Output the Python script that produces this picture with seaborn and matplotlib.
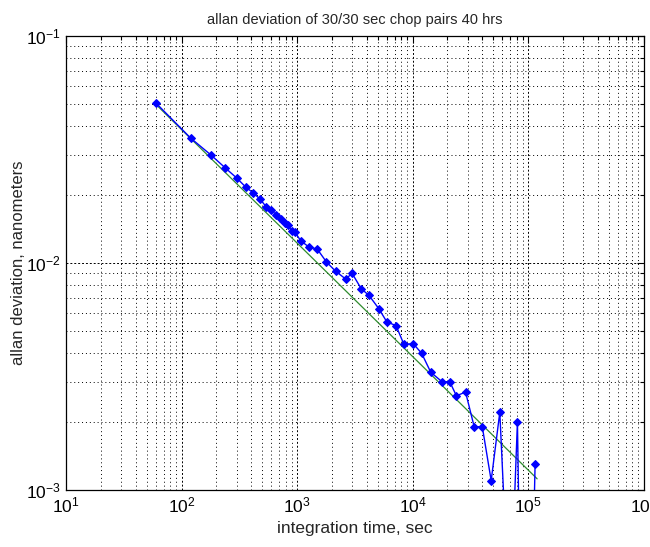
import math
import matplotlib
matplotlib.use("Agg")
import matplotlib.pyplot as plt
import matplotlib.ticker as mticker
import seaborn as sns

# integration times (sec) and allan deviation (nm)
tau = [60, 120, 180, 240, 300, 360, 420, 480, 540, 600,
       660, 720, 780, 840, 900, 960, 1080, 1260, 1500, 1800,
       2160, 2640, 3000, 3600, 4200, 5100, 6000, 7200, 8400, 10200,
       12000, 14400, 18000, 21000, 24000, 28800, 34200, 40200, 48000, 57000,
       64200, 72000, 81000, 85800, 108000, 115200]
adev = [0.0507, 0.0355, 0.0299, 0.0262, 0.0237, 0.0216, 0.0203, 0.0191, 0.0177, 0.0171,
        0.0163, 0.0156, 0.0150, 0.0147, 0.0138, 0.0137, 0.0125, 0.0118, 0.0115, 0.0101,
        0.0092, 0.0085, 0.0090, 0.0077, 0.0072, 0.0063, 0.0055, 0.0053, 0.0044, 0.0044,
        0.0040, 0.0033, 0.0030, 0.0030, 0.0026, 0.0027, 0.0019, 0.0019, 0.0011, 0.0022,
        0.0006, 0.0004, 0.0020, 0.0003, 0.0003, 0.0013]

# tau^-1/2 reference line endpoints
fit_tau = [60, 120000]
fit_dev = [0.05, 0.00112]

sns.set_style("white")
plt.rcParams['font.family'] = ['Liberation Sans', 'DejaVu Sans']
plt.rcParams['mathtext.fontset'] = 'custom'
plt.rcParams['mathtext.rm'] = 'Liberation Sans'
plt.rcParams['mathtext.it'] = 'Liberation Sans'
plt.rcParams['mathtext.bf'] = 'Liberation Sans'

fig = plt.figure(figsize=(6.5, 5.47), dpi=100)
ax = fig.add_axes([66 / 650, 1 - 490 / 547, (643.5 - 66) / 650, (490 - 36) / 547])

sns.lineplot(x=fit_tau, y=fit_dev, ax=ax, color='#2e8b2e', linewidth=0.9)
sns.lineplot(x=tau, y=adev, ax=ax, color='#0000ff', linewidth=1.0,
             marker='D', markersize=3.8, markeredgecolor='#0000ff',
             markerfacecolor='#0000ff')

ax.set_xscale('log')
ax.set_yscale('log')
ax.set_xlim(10, 1e6)
ax.set_ylim(1e-3, 1e-1)

def pow10(v, pos):
    return r'$10^{%d}$' % round(math.log10(v))

ax.xaxis.set_major_locator(mticker.LogLocator(base=10, numticks=10))
ax.xaxis.set_major_formatter(mticker.FuncFormatter(pow10))
ax.yaxis.set_major_formatter(mticker.FuncFormatter(pow10))
ax.xaxis.set_minor_locator(mticker.LogLocator(base=10, subs=range(2, 10), numticks=20))
ax.yaxis.set_minor_locator(mticker.LogLocator(base=10, subs=range(2, 10), numticks=20))
ax.xaxis.set_minor_formatter(mticker.NullFormatter())
ax.yaxis.set_minor_formatter(mticker.NullFormatter())

ax.grid(True, which='major', color='k', linestyle=(0, (2, 2)), linewidth=0.7)
ax.grid(True, which='minor', color='k', linestyle=(0, (1, 3)), linewidth=0.7)
ax.set_axisbelow(True)

ax.tick_params(which='both', direction='in', top=True, right=True,
               colors='k', labelsize=12.5)
ax.tick_params(which='major', length=5, width=0.8, pad=4)
ax.tick_params(which='minor', length=3, width=0.8)
for s in ax.spines.values():
    s.set_color('k')
    s.set_linewidth(0.9)

ax.set_title('allan deviation of 30/30 sec chop pairs 40 hrs', fontsize=10.5, pad=9)
ax.set_xlabel('integration time, sec', fontsize=12.5, labelpad=4)
ax.set_ylabel('allan deviation, nanometers', fontsize=12)
ax.yaxis.set_label_coords(-0.069, 0.5)

fig.savefig('out.png', dpi=100, facecolor='white')
